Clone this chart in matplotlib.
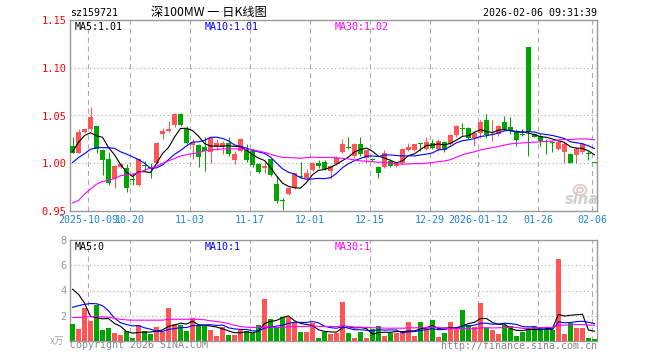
import matplotlib
matplotlib.use("Agg")
import matplotlib.pyplot as plt
from matplotlib.patches import Ellipse
import numpy as np
import pandas as pd

W, H = 660, 360

# daily candles, 2025-09-26 .. 2026-02-06
opens = [1.018, 1.011, 1.033, 1.036, 1.0389, 1.0142, 1.004, 0.9833, 0.996, 0.9948,
         0.983, 0.977, 0.998, 0.996, 1.000, 1.031, 1.0337, 1.040, 1.052, 1.0354,
         1.019, 1.019, 1.017, 1.012, 1.017, 1.017, 1.0215, 1.0035, 1.013, 1.0146,
         1.013, 0.999, 0.995, 1.004, 0.978, 0.961, 0.968, 0.974, 0.987, 0.985,
         0.993, 1.0007, 1.0014, 0.992, 0.999, 1.012, 1.017, 1.0076, 1.0198, 1.006,
         1.004, 0.996, 0.996, 1.0024, 0.997, 1.000, 1.0135, 1.0135, 1.0205, 1.0146,
         1.0215, 1.0146, 1.022, 1.0198, 1.0295, 1.0365, 1.0365, 1.026, 1.032, 1.045,
         1.0295, 1.0306, 1.0427, 1.0375, 1.034, 1.0306, 1.1215, 1.0306, 1.0288, 1.0236,
         1.022, 1.015, 1.012, 1.0097, 1.009, 1.0115, 1.0097, 1.0003]
highs = [1.027, 1.036, 1.037, 1.059, 1.039, 1.015, 1.012, 0.998, 1.000, 0.999,
         0.990, 1.005, 1.002, 1.0007, 1.022, 1.037, 1.044, 1.053, 1.053, 1.039,
         1.025, 1.020, 1.027, 1.027, 1.025, 1.023, 1.027, 1.013, 1.026, 1.020,
         1.0146, 1.0007, 1.002, 1.005, 0.987, 0.964, 0.975, 0.990, 1.0017, 0.994,
         1.001, 1.003, 1.003, 0.998, 1.008, 1.025, 1.027, 1.021, 1.027, 1.014,
         1.0055, 0.997, 1.014, 1.004, 1.001, 1.016, 1.0215, 1.020, 1.0215, 1.027,
         1.025, 1.025, 1.023, 1.031, 1.040, 1.042, 1.0375, 1.034, 1.0455, 1.052,
         1.045, 1.040, 1.049, 1.048, 1.0358, 1.0358, 1.122, 1.032, 1.0306, 1.025,
         1.0236, 1.0236, 1.022, 1.011, 1.0167, 1.021, 1.013, 1.0003]
lows = [1.011, 1.011, 1.032, 1.034, 1.011, 0.988, 0.977, 0.9736, 0.995, 0.970,
        0.977, 0.976, 0.992, 0.985, 0.999, 1.025, 1.033, 1.038, 1.039, 1.020,
        1.004, 0.996, 0.992, 1.0007, 1.014, 1.010, 1.008, 0.9997, 1.012, 1.001,
        0.996, 0.990, 0.990, 0.987, 0.958, 0.951, 0.967, 0.973, 0.985, 0.984,
        0.992, 0.995, 0.993, 0.985, 0.998, 1.011, 1.0146, 1.005, 1.008, 1.0007,
        1.002, 0.985, 0.995, 0.996, 0.996, 0.999, 1.013, 1.013, 1.013, 1.014,
        1.0146, 1.013, 1.012, 1.019, 1.028, 1.0295, 1.025, 1.0177, 1.026, 1.026,
        1.0236, 1.029, 1.035, 1.0306, 1.0177, 1.029, 1.0073, 1.027, 1.0177, 1.0097,
        1.012, 1.014, 1.000, 1.000, 1.0003, 1.010, 1.0038, 1.000]
closes = [1.011, 1.0326, 1.0358, 1.0486, 1.0153, 1.0038, 0.979, 0.9972, 0.999, 0.9736,
          0.982, 1.0042, 0.997, 0.995, 1.0208, 1.0337, 1.0358, 1.052, 1.040, 1.0215,
          1.022, 1.0066, 1.013, 1.0267, 1.0215, 1.0215, 1.0094, 1.0094, 1.025, 1.0035,
          0.998, 0.991, 0.997, 0.988, 0.960, 0.960, 0.974, 0.9896, 0.986, 0.9896,
          1.0007, 0.997, 0.994, 0.997, 1.006, 1.0198, 1.016, 1.0205, 1.0094, 1.0135,
          1.0035, 0.990, 1.011, 0.997, 1.0007, 1.0146, 1.017, 1.0198, 1.020, 1.022,
          1.0163, 1.0233, 1.0135, 1.0295, 1.0389, 1.036, 1.026, 1.032, 1.0427, 1.0295,
          1.0306, 1.0385, 1.0358, 1.035, 1.0247, 1.030, 1.0323, 1.028, 1.0236, 1.022,
          1.021, 1.0226, 1.020, 1.0003, 1.015, 1.020, 1.0094, 1.000]
# volume in 万
volumes = [1.33, 0.93, 2.59, 1.57, 2.85, 0.85, 1.04, 0.64, 0.45, 0.77,
           0.24, 1.25, 0.77, 0.53, 1.12, 0.72, 2.64, 1.33, 1.25, 0.77,
           1.84, 1.25, 1.2, 0.85, 0.4, 1.12, 0.45, 0.45, 0.85, 0.77,
           0.67, 1.25, 3.36, 1.73, 1.12, 1.87, 1.87, 1.39, 0.72, 0.72,
           1.39, 0.24, 0.72, 0.53, 0.64, 3.09, 0.64, 0.24, 0.72, 0.24,
           0.93, 1.17, 0.4, 0.67, 0.64, 0.77, 1.52, 0.4, 1.52, 1.04,
           1.65, 0.32, 0.64, 1.52, 1.04, 2.45, 1.25, 1.12, 3.04, 1.04,
           0.85, 0.53, 1.25, 1.2, 0.4, 0.72, 1.04, 1.2, 1.12, 0.85,
           0.85, 6.53, 0.53, 1.44, 1.04, 1.04, 0.24, 0.13]

date_labels = ["2025-10-09", "10-20", "11-03", "11-17", "12-01",
               "12-15", "12-29", "2026-01-12", "01-26", "02-06"]
date_idx = [3, 10, 20, 30, 40, 50, 60, 68, 78, 87]

# first points of the moving averages depend on days before the window ->
ma5_head = [1.012, 1.022, 1.029, 1.032]
ma10_head = [1.0007, 1.006, 1.010, 1.0146, 1.0163, 1.0163, 1.0163, 1.0156, 1.012]
ma30_head = [0.9585, 0.961, 0.9677, 0.973, 0.978, 0.981, 0.982, 0.984, 0.987, 0.988,
             0.9885, 0.990, 0.9927, 0.995, 0.997, 0.9997, 1.0024, 1.005, 1.0076, 1.009,
             1.010, 1.011, 1.013, 1.014, 1.0145, 1.015, 1.015, 1.015, 1.015]
vma5_head = [4.1, 3.7, 3.0, 1.95]
vma10_head = [2.67, 2.8, 2.9, 2.97, 2.95, 2.8, 2.4, 1.8, 1.45]
vma30_head = [1.85, 1.87, 1.9, 1.92, 1.92, 1.92, 1.88, 1.8, 1.72, 1.67,
              1.65, 1.65, 1.65, 1.65, 1.65, 1.65, 1.72, 1.72, 1.72, 1.72,
              1.72, 1.72, 1.68, 1.6, 1.55, 1.48, 1.38, 1.25, 1.15]

ma_labels = ["MA5:1.01", "MA10:1.01", "MA30:1.02"]
vma_labels = ["MA5:0", "MA10:1", "MA30:1"]


def moving_avg(vals, n, head):
    s = pd.Series(vals).rolling(n).mean().to_numpy()
    s[:len(head)] = head
    return s


RED = "#ff5555"
GREEN = "#00a600"
GRID = "#aaaaaa"
SPINE = "#999999"
MONO = "DejaVu Sans Mono"
MA_COLORS = ["black", "#0000ff", "#ff00ff"]

o = np.array(opens)
c = np.array(closes)
x = np.arange(len(c))
cols = np.where(c >= o, RED, GREEN)

fig = plt.figure(figsize=(W / 100, H / 100), dpi=100)
ax = fig.add_axes([70 / W, 1 - 211 / H, 527 / W, 191 / H])
axv = fig.add_axes([70 / W, 1 - 341 / H, 527 / W, 101 / H])

xlim = (-0.42, 87.42)

# --- price panel
ax.vlines(x, lows, highs, colors=cols, lw=0.75, zorder=3)
body_lo = np.minimum(o, c)
body_h = np.maximum(np.abs(c - o), 0.0009)
ax.bar(x, body_h, bottom=body_lo, width=0.82, color=cols, linewidth=0, zorder=3)

price_mas = [moving_avg(closes, 5, ma5_head),
             moving_avg(closes, 10, ma10_head),
             moving_avg(closes, 30, ma30_head)]
for m, col in zip(price_mas, MA_COLORS):
    ax.plot(x, m, color=col, lw=0.8, zorder=4)

ax.set_xlim(*xlim)
ax.set_ylim(0.95, 1.15)
for yv in [1.00, 1.05, 1.10]:
    ax.axhline(yv, color=GRID, lw=0.8, ls=(0, (1, 2.5)), zorder=1)

ax.set_yticks([0.95, 1.00, 1.05, 1.10, 1.15])
ax.set_yticklabels(["0.95", "1.00", "1.05", "1.10", "1.15"])
ax.tick_params(axis="y", length=0, pad=2.5, labelcolor="red", labelsize=7.5)
ax.set_xticks([i - 0.42 for i in date_idx])
ax.set_xticklabels(date_labels)
ax.tick_params(axis="x", length=0, pad=3, labelcolor="#1f86d6", labelsize=7.2)
for lab in ax.get_xticklabels() + ax.get_yticklabels():
    lab.set_family(MONO)

# --- volume panel
axv.bar(x, volumes, width=0.82, color=cols, linewidth=0, zorder=3)
vol_mas = [moving_avg(volumes, 5, vma5_head),
           moving_avg(volumes, 10, vma10_head),
           moving_avg(volumes, 30, vma30_head)]
for m, col in zip(vol_mas, MA_COLORS):
    axv.plot(x, m, color=col, lw=0.8, zorder=4)
axv.set_xlim(*xlim)
axv.set_ylim(0, 8)
for yv in [2, 4, 6]:
    axv.axhline(yv, color=GRID, lw=0.8, ls=(0, (1, 2.5)), zorder=1)
axv.set_yticks([2, 4, 6, 8])
axv.set_yticklabels(["2", "4", "6", "8"])
axv.tick_params(axis="y", length=0, pad=2.5, labelcolor="#999999", labelsize=7.5)
for lab in axv.get_yticklabels():
    lab.set_family(MONO)
axv.set_xticks([])

for a in (ax, axv):
    for i in date_idx:
        a.axvline(i - 0.42, color=GRID, lw=0.8, ls=(0, (4.5, 3.5)), zorder=1)
    for sp in a.spines.values():
        sp.set_color(SPINE)
        sp.set_linewidth(1)


def ftext(px, py, s, **kw):
    kw.setdefault("family", MONO)
    kw.setdefault("fontsize", 7.2)
    kw.setdefault("va", "center")
    fig.text(px / W, 1 - py / H, s, **kw)


# header
ftext(70, 13, "sz159721")
ftext(209, 12.5, "深100MW 一 日K线图", ha="center", fontsize=8.8,
      family=["Noto Sans CJK SC", "DejaVu Sans"])
ftext(597, 13, "2026-02-06 09:31:39", ha="right")

# MA captions
for px, s, col in zip([75, 205, 335], ma_labels, MA_COLORS):
    ftext(px, 26.5, s, color=col)
for px, s, col in zip([75, 205, 335], vma_labels, MA_COLORS):
    ftext(px, 246.5, s, color=col)

ftext(64, 341, "x万", ha="right", color="#aaaaaa", fontsize=7,
      family=["Noto Sans CJK SC", "DejaVu Sans"])
ftext(70, 345.5, "Copyright 2026 SINA.COM", color="#888888")
ftext(597, 346, "http://finance.sina.com.cn", ha="right", color="#888888")

# sina watermark (eye + word)
for w, alpha in [(13, 1.0), (6, 1.0)]:
    fig.patches.append(Ellipse((580 / W, 1 - 190 / H), w / W, w * 0.8 / H,
                               transform=fig.transFigure, fill=False,
                               edgecolor="#e6c4c4", lw=1.2, alpha=alpha))
ftext(582, 200, "sina", ha="center", color="#cfcfcf", fontsize=10.5,
      family="DejaVu Sans", style="italic", weight="bold")

fig.savefig("out.png", dpi=100)
